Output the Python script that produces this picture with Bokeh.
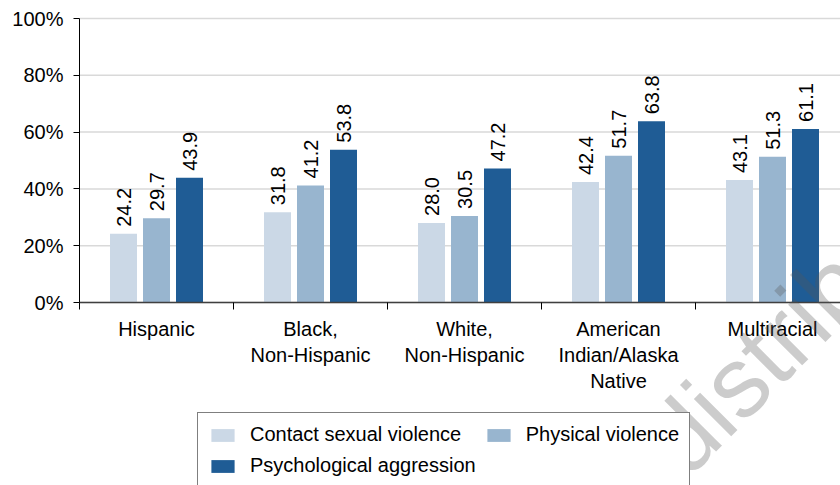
import math
from bokeh.plotting import figure
from bokeh.models import (Range1d, FixedTicker, Legend, LegendItem, ColumnDataSource, Label)
from bokeh.core.properties import value
from bokeh.embed import file_html
from bokeh.resources import INLINE

# ---- data ----
categories = ["Hispanic", "Black,\nNon-Hispanic", "White,\nNon-Hispanic",
              "American\nIndian/Alaska\nNative", "Multiracial"]
series_names = ["Contact sexual violence", "Physical violence", "Psychological aggression"]
contact_sexual = [24.2, 31.8, 28.0, 42.4, 43.1]
physical = [29.7, 41.2, 30.5, 51.7, 51.3]
psychological = [43.9, 53.8, 47.2, 63.8, 61.1]
y_ticks = [0, 20, 40, 60, 80, 100]
y_tick_labels = ["0%", "20%", "40%", "60%", "80%", "100%"]
watermark = ["Not for", "distribution"]

colors = ["#cbd8e6", "#98b5cf", "#1f5c95"]
FONT = "Liberation Sans"

W, H = 840, 485
X0PX, Y0PX, CATPX, YSCALE = 79, 302, 154, 2.84   # layout: axis origin, category width, px per %
x_end = (W - X0PX) / CATPX
x_start = -X0PX / CATPX
y_top = Y0PX / YSCALE
y_bot = -(H - Y0PX) / YSCALE

p = figure(width=W, height=H, output_backend="svg", toolbar_location=None,
           x_range=Range1d(x_start, x_end), y_range=Range1d(y_bot, y_top),
           min_border=0, outline_line_color=None)
p.xgrid.visible = False
p.ygrid.visible = False

n = len(categories)
centers = [i + 0.5 for i in range(n)]
offs = [-33 / CATPX, 0, 33 / CATPX]
bw = 27 / CATPX

# horizontal gridlines
p.segment(x0=[0] * len(y_ticks), x1=[x_end] * len(y_ticks), y0=y_ticks, y1=y_ticks,
          line_color="#d9d9d9", line_width=1.5)

renderers = []
for k, vals in enumerate([contact_sexual, physical, psychological]):
    xs = [c + offs[k] for c in centers]
    src = ColumnDataSource(dict(x=xs, top=vals, lab=["%.1f" % v for v in vals]))
    r = p.vbar(x="x", top="top", bottom=0, width=bw, source=src, fill_color=colors[k], line_color=None)
    renderers.append(r)
    p.text(x="x", y="top", text="lab", source=src, angle=math.pi / 2, y_offset=-7,
           text_align="left", text_baseline="middle", text_font=value(FONT),
           text_font_size="20px", text_color="#000000")

# axes (fixed at the data origin)
xa = p.xaxis[0]
xa.fixed_location = 0
xa.bounds = (0, x_end)
xa.ticker = FixedTicker(ticks=centers, minor_ticks=list(range(n + 1)))
xa.major_label_overrides = {c: lab for c, lab in zip(centers, categories)}
xa.major_tick_out = 0
xa.major_tick_in = 0
xa.minor_tick_out = 7
xa.minor_tick_in = 0
xa.minor_tick_line_color = "#000000"
xa.axis_line_color = "#404040"
xa.axis_line_width = 1.5
xa.major_label_text_font = FONT
xa.major_label_text_font_size = "20px"
xa.major_label_text_color = "#000000"
xa.major_label_text_line_height = 1.2
xa.major_label_standoff = 8

ya = p.yaxis[0]
ya.fixed_location = 0
ya.bounds = (0, 100)
ya.ticker = FixedTicker(ticks=y_ticks, minor_ticks=[])
ya.major_label_overrides = {t: l for t, l in zip(y_ticks, y_tick_labels)}
ya.major_tick_out = 6
ya.major_tick_in = 0
ya.axis_line_color = "#000000"
ya.major_tick_line_color = "#000000"
ya.major_label_text_font = FONT
ya.major_label_text_font_size = "20px"
ya.major_label_text_color = "#000000"
ya.major_label_standoff = 10

legend = Legend(items=[LegendItem(label=series_names[k], renderers=[renderers[k]]) for k in range(3)],
                orientation="horizontal", ncols=2, location=(197, -3),
                border_line_color="#000000", border_line_width=1,
                label_text_font=FONT, label_text_font_size="20px", label_text_color="#000000",
                glyph_width=29, glyph_height=16, label_standoff=13,
                padding=10, spacing=8, margin=0, background_fill_alpha=1)
p.add_layout(legend, "center")

# watermark
ang = math.radians(45)
def data_xy(px, py):
    return (px - X0PX) / CATPX, (Y0PX - py) / YSCALE
x1, y1 = data_xy(662, 455)
x0, y0 = data_xy(641, 476)
for (wx, wy, txt, al) in [(x1, y1, watermark[1], "left"), (x0, y0, watermark[0], "right")]:
    p.add_layout(Label(x=wx, y=wy, text=txt, angle=ang, text_align=al,
                       text_baseline="alphabetic", text_font=FONT, text_font_size="100px",
                       text_color="#555555", text_alpha=0.3))

open("out.html", "w").write(file_html(p, INLINE))
